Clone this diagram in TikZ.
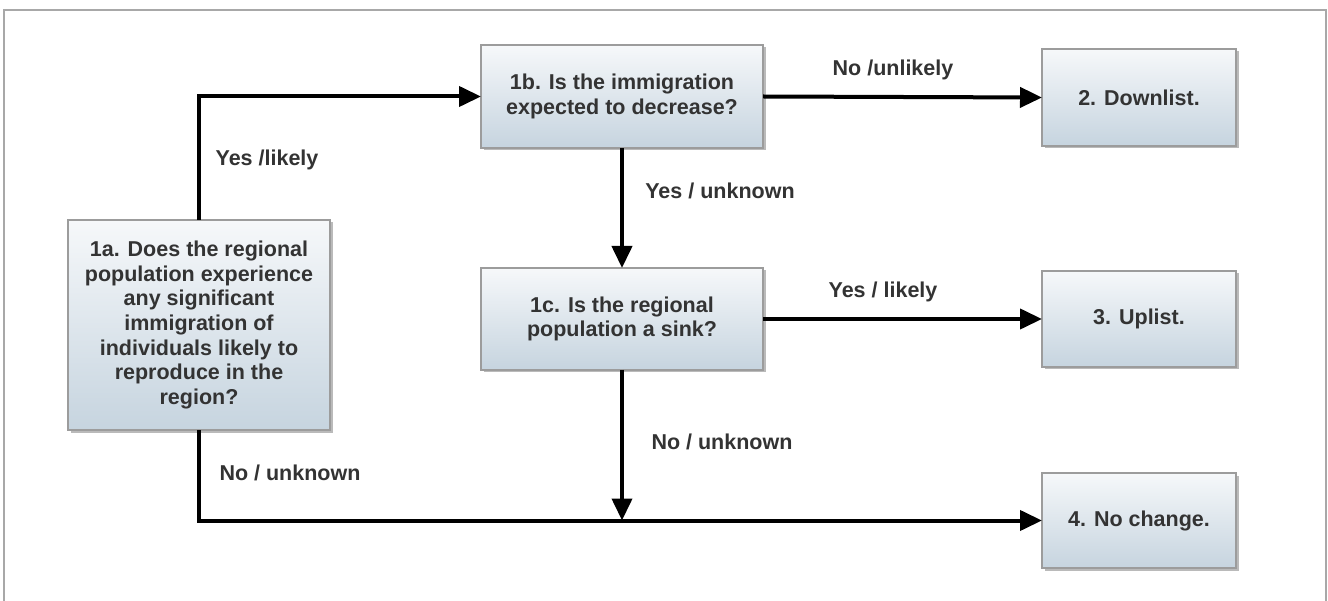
\documentclass[tikz,border=0pt]{standalone}
\usepackage{fontspec}
\setmainfont{Liberation Sans}
\usetikzlibrary{arrows.meta,shadows}
\definecolor{txt}{HTML}{333333}
\definecolor{boxtop}{HTML}{F6F8FA}
\definecolor{boxbot}{HTML}{C6D4DF}
\definecolor{boxline}{HTML}{9C9C9C}
\definecolor{frameline}{HTML}{A8A8A8}
\tikzset{
  qbox/.style={draw=boxline, line width=1.5pt, top color=boxtop, bottom color=boxbot,
    drop shadow={shadow xshift=2.5pt, shadow yshift=-2.5pt, fill=black!45, opacity=0.6},
    text=txt, font=\fontsize{21.5}{24.7}\selectfont\bfseries, align=center,
    inner sep=0pt, outer sep=0pt},
  lbl/.style={text=txt, font=\fontsize{21.5}{24.7}\selectfont\bfseries, inner sep=0pt},
  conn/.style={line width=4pt, black, -{Triangle[length=22pt,width=20pt]}},
  plain/.style={line width=4pt, black},
}
\begin{document}
\begin{tikzpicture}[x=1pt,y=-1pt]
\useasboundingbox (0,0) rectangle (1328,601);
\fill[white] (0,0) rectangle (1328,601);
\draw[frameline, line width=1.5pt] (4,601) -- (4,10) -- (1326,10) -- (1326,601);

\node[qbox, minimum width=262pt, minimum height=210pt] (a) at (199,325)
  {1a. Does the regional\\population experience\\any significant\\immigration of\\individuals likely to\\reproduce in the\\region?};
\node[qbox, minimum width=282pt, minimum height=103pt] (b) at (622,96.5)
  {1b. Is the immigration\\expected to decrease?};
\node[qbox, minimum width=282pt, minimum height=102pt] (c) at (622,319)
  {1c. Is the regional\\population a sink?};
\node[qbox, minimum width=194pt, minimum height=97pt] (d2) at (1139,97.5) {2. Downlist.};
\node[qbox, minimum width=194pt, minimum height=96pt] (d3) at (1139,319) {3. Uplist.};
\node[qbox, minimum width=194pt, minimum height=95pt] (d4) at (1139,520.5) {4. No change.};

\coordinate (j) at (c.south |- d4.west);

\draw[conn] (a.north) |- (b.west);
\draw[conn] (b.east) -- (d2.west);
\draw[conn] (b.south) -- (c.north);
\draw[conn] (c.east) -- (d3.west);
\draw[conn] (c.south) -- (j);
\draw[conn] (a.south) |- (d4.west);

\node[lbl] (l1) at (267,160) {Yes /likely};
\node[lbl] (l2) at (893,70) {No /unlikely};
\node[lbl] (l3) at (720,191) {Yes / unknown};
\node[lbl] (l4) at (883,292) {Yes / likely};
\node[lbl] (l5) at (722,442) {No / unknown};
\node[lbl] (l6) at (290,473) {No / unknown};
\end{tikzpicture}
\end{document}
